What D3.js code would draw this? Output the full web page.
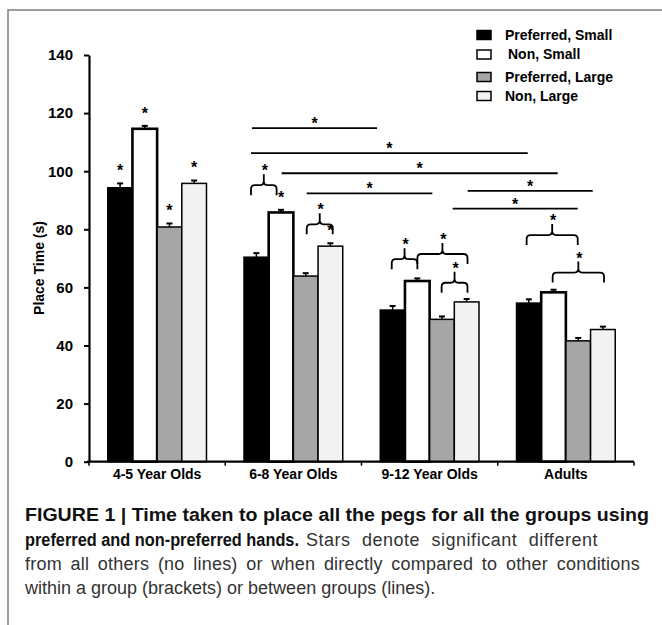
<!DOCTYPE html>
<html>
<head>
<meta charset="utf-8">
<script src="https://cdn.jsdelivr.net/npm/d3@7"></script>
<style>
  body { margin: 0; background: #fff; }
  svg { display: block; }
</style>
</head>
<body>
<div id="chart"></div>
<script>
// data
var groups = ["4-5 Year Olds", "6-8 Year Olds", "9-12 Year Olds", "Adults"]
var series = ["Preferred, Small", "Non, Small", "Preferred, Large", "Non, Large"]
var prefSmall  = [94.3, 70.4, 52.2, 54.6]
var nonSmall   = [114.6, 85.8, 62.2, 58.3]
var prefLarge  = [80.8, 63.9, 49.0, 41.6]
var nonLarge   = [95.8, 74.2, 55.0, 45.5]
var errPrefSmall = [1.5, 1.4, 1.4, 1.3]
var errNonSmall  = [1.0, 0.9, 0.9, 0.9]
var errPrefLarge = [1.2, 1.0, 1.0, 1.0]
var errNonLarge  = [1.0, 1.0, 1.0, 1.0]
var yTicks = [0, 20, 40, 60, 80, 100, 120, 140]

// stars straight over a bar: [group, series]
var barStars = [[0,0],[0,1],[0,2],[0,3],[1,1],[1,3]]
// between-group lines: x in group units (0..4), y in seconds
var sigLines = [
  {x1: 1.196, x2: 2.114, y: 114.8},
  {x1: 1.189, x2: 3.220, y: 106.2},
  {x1: 1.414, x2: 3.440, y: 99.3},
  {x1: 1.598, x2: 2.520, y: 92.4},
  {x1: 2.779, x2: 3.697, y: 93.2},
  {x1: 2.669, x2: 3.587, y: 87.1}
]
// within-group brackets
var braces = [
  {x1: 1.189, x2: 1.377, y: 95.2},
  {x1: 1.598, x2: 1.789, y: 81.7},
  {x1: 2.222, x2: 2.410, y: 69.7},
  {x1: 2.410, x2: 2.778, y: 71.5},
  {x1: 2.588, x2: 2.778, y: 61.6},
  {x1: 3.212, x2: 3.587, y: 78.0},
  {x1: 3.403, x2: 3.780, y: 65.1}
]

var values = [prefSmall, nonSmall, prefLarge, nonLarge]
var errors = [errPrefSmall, errNonSmall, errPrefLarge, errNonLarge]
var fills = ["#000000", "#ffffff", "#a6a6a6", "#f2f2f2"]
var strokeW = [1.5, 2.6, 1.5, 1.5]

var W = 662, H = 625
var font = "'Liberation Sans', Arial, sans-serif"

var svg = d3.select("#chart").append("svg")
  .attr("width", W)
  .attr("height", H)

// frame (top and left edges show)
svg.append("path")
  .attr("d", "M" + W + ",10H8V" + H)
  .attr("fill", "none")
  .attr("stroke", "#7f7f7f")
  .attr("stroke-width", 1.5)

var x0 = d3.scaleBand().domain(groups).range([89, 634])
var x1 = d3.scaleBand().domain(series).range([0, x0.bandwidth()]).paddingOuter(0.76)
var xi = d3.scaleLinear().domain([0, groups.length]).range(x0.range())
var y = d3.scaleLinear().domain([0, 140]).range([461.7, 55])

var rows = []
groups.forEach(function(g, gi) {
  series.forEach(function(s, si) {
    rows.push({g: g, gi: gi, s: s, si: si, v: values[si][gi], e: errors[si][gi]})
  })
})

// y axis
var yAxis = svg.append("g")
  .attr("transform", "translate(89,0)")
  .call(d3.axisLeft(y).tickValues(yTicks).tickSize(5).tickSizeOuter(0))
yAxis.select(".domain").attr("stroke-width", 2.2)
yAxis.selectAll(".tick line").attr("stroke-width", 2)
yAxis.selectAll(".tick text")
  .attr("x", -16)
  .style("font-family", font)
  .style("font-weight", "bold")
  .style("font-size", "15px")
  .attr("fill", "#000")

// bars
svg.append("g").selectAll("rect")
  .data(rows)
  .enter()
  .append("rect")
    .attr("x", function(d) { return x0(d.g) + x1(d.s) })
    .attr("y", function(d) { return y(d.v) })
    .attr("width", x1.bandwidth())
    .attr("height", function(d) { return y(0) - y(d.v) })
    .attr("fill", function(d) { return fills[d.si] })
    .attr("stroke", "#000")
    .attr("stroke-width", function(d) { return strokeW[d.si] })

// error bars (upper only)
var eb = svg.append("g").attr("stroke", "#000")
rows.forEach(function(d) {
  var cx = x0(d.g) + x1(d.s) + x1.bandwidth() / 2
  eb.append("line")
    .attr("x1", cx).attr("x2", cx)
    .attr("y1", y(d.v)).attr("y2", y(d.v + d.e))
    .attr("stroke-width", 1.5)
  eb.append("line")
    .attr("x1", cx - 3).attr("x2", cx + 3)
    .attr("y1", y(d.v + d.e)).attr("y2", y(d.v + d.e))
    .attr("stroke-width", 2)
})

// x axis
var xAxis = svg.append("g")
  .attr("transform", "translate(0," + y(0) + ")")
xAxis.append("line")
  .attr("x1", 87).attr("x2", 634)
  .attr("stroke", "#000").attr("stroke-width", 2.2)
xAxis.selectAll(".sep")
  .data(d3.range(groups.length + 1))
  .enter()
  .append("line")
    .attr("x1", function(d) { return xi(d) })
    .attr("x2", function(d) { return xi(d) })
    .attr("y1", 0).attr("y2", 4)
    .attr("stroke", "#000").attr("stroke-width", 1.5)
xAxis.selectAll(".lab")
  .data(groups)
  .enter()
  .append("text")
    .attr("x", function(d) { return x0(d) + x0.bandwidth() / 2 })
    .attr("y", 17)
    .attr("text-anchor", "middle")
    .style("font-family", font)
    .style("font-weight", "bold")
    .style("font-size", "14px")
    .text(function(d) { return d })

// y title
svg.append("text")
  .attr("transform", "translate(44,268)rotate(-90)")
  .attr("text-anchor", "middle")
  .style("font-family", font)
  .style("font-weight", "bold")
  .style("font-size", "14px")
  .text("Place Time (s)")

function star(px, py) {
  svg.append("text")
    .attr("x", px).attr("y", py)
    .attr("text-anchor", "middle")
    .style("font-family", font)
    .style("font-weight", "bold")
    .style("font-size", "16px")
    .text("*")
}

// stars on bars
barStars.forEach(function(b) {
  var d = rows[b[0] * series.length + b[1]]
  star(x0(d.g) + x1(d.s) + x1.bandwidth() / 2, y(d.v + d.e) - 7)
})

// lines between groups
sigLines.forEach(function(l) {
  svg.append("line")
    .attr("x1", xi(l.x1)).attr("x2", xi(l.x2))
    .attr("y1", y(l.y)).attr("y2", y(l.y))
    .attr("stroke", "#000").attr("stroke-width", 1.8)
  star((xi(l.x1) + xi(l.x2)) / 2, y(l.y) + 1)
})

// brackets within groups
braces.forEach(function(b) {
  var a = xi(b.x1), c = xi(b.x2), m = (a + c) / 2
  var f = y(b.y), bot = f + 10, pk = f - 11, r = 4
  var p = d3.path()
  p.moveTo(a, bot)
  p.lineTo(a, f + r)
  p.quadraticCurveTo(a, f, a + r, f)
  p.lineTo(m - r, f)
  p.quadraticCurveTo(m, f, m, f - r)
  p.lineTo(m, pk)
  p.moveTo(m, f - r)
  p.quadraticCurveTo(m, f, m + r, f)
  p.lineTo(c - r, f)
  p.quadraticCurveTo(c, f, c, f + r)
  p.lineTo(c, bot)
  svg.append("path")
    .attr("d", p.toString())
    .attr("fill", "none")
    .attr("stroke", "#000")
    .attr("stroke-width", 1.8)
  star(m + 1, pk + 2)
})

// legend
var leg = svg.append("g")
var legY = [35, 54.5, 77, 96]
series.forEach(function(s, i) {
  leg.append("rect")
    .attr("x", 477).attr("y", legY[i] - 4.5)
    .attr("width", 14).attr("height", 9)
    .attr("fill", fills[i])
    .attr("stroke", "#000")
    .attr("stroke-width", 1.5)
  leg.append("text")
    .attr("x", i == 1 ? 508 : 505)
    .attr("y", legY[i] + 4.5)
    .style("font-family", font)
    .style("font-weight", "bold")
    .style("font-size", "14px")
    .text(s)
})

// caption
// spread a line out so it ends where it ends in the figure
function justify(t, width, letterShare) {
  var txt = t.text()
  var gaps = txt.split(" ").length - 1
  var natural = t.node().getComputedTextLength()
  if (width <= natural) return
  var extra = width - natural
  var ls = extra * letterShare / txt.length
  t.style("letter-spacing", ls + "px")
  if (gaps > 0) t.style("word-spacing", (extra * (1 - letterShare) / gaps) + "px")
}
var cap = svg.append("g").style("font-family", font).style("font-size", "18px")
cap.append("text")
  .attr("x", 25).attr("y", 521)
  .attr("textLength", 624).attr("lengthAdjust", "spacingAndGlyphs")
  .style("font-weight", "bold").attr("fill", "#111")
  .text("FIGURE 1 | Time taken to place all the pegs for all the groups using")
cap.append("text")
  .attr("x", 25).attr("y", 546)
  .attr("textLength", 274).attr("lengthAdjust", "spacingAndGlyphs")
  .style("font-weight", "bold").attr("fill", "#111")
  .text("preferred and non-preferred hands.")
var l2 = cap.append("text")
  .attr("x", 306).attr("y", 546)
  .attr("fill", "#333")
  .text("Stars denote significant different")
justify(l2, 292, 0.5)
var l3 = cap.append("text")
  .attr("x", 25).attr("y", 570)
  .attr("fill", "#333")
  .text("from all others (no lines) or when directly compared to other conditions")
justify(l3, 615, 0.3)
cap.append("text")
  .attr("x", 25).attr("y", 594)
  .attr("fill", "#333")
  .text("within a group (brackets) or between groups (lines).")
</script>
</body>
</html>
